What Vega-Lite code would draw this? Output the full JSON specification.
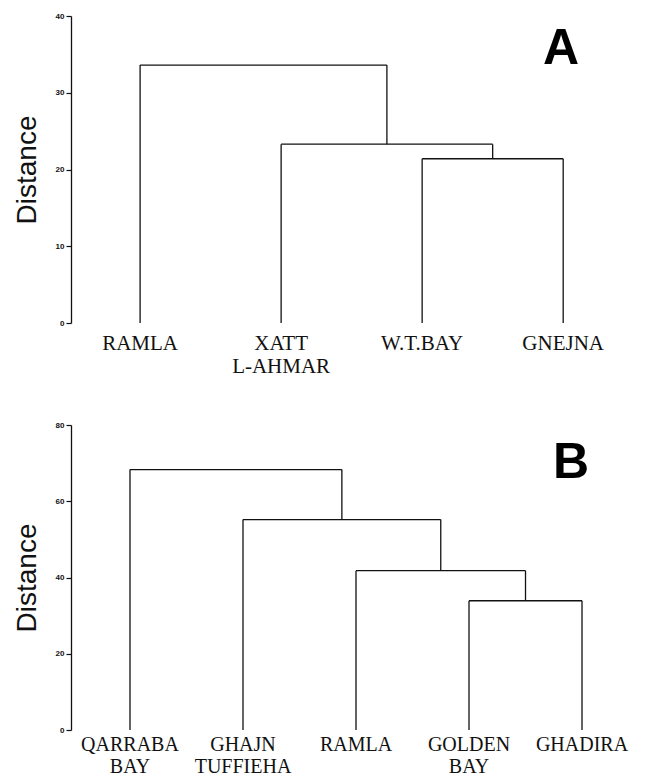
{
  "$schema": "https://vega.github.io/schema/vega-lite/v6.json",
  "background": "white",
  "padding": {"left": 13, "top": 12, "right": 5, "bottom": 0},
  "spacing": 44,
  "config": {
    "view": {"stroke": null},
    "axis": {
      "grid": false,
      "tickSize": 5,
      "labelFontSize": 8,
      "labelFont": "Liberation Sans",
      "labelFontWeight": "bold",
      "labelColor": "#111",
      "labelPadding": 2,
      "domainColor": "#111",
      "domainWidth": 1.3,
      "tickColor": "#111",
      "tickWidth": 1.2,
      "titleFont": "Liberation Sans",
      "titleFontSize": 28,
      "titleFontWeight": "normal",
      "titleColor": "#111",
      "titlePadding": 14
    },
    "title": {"font": "Liberation Sans", "fontSize": 50, "fontWeight": "bold", "color": "#000", "anchor": "end", "frame": "group", "offset": 0, "baseline": "alphabetic"}
  },
  "vconcat": [
    {
      "width": 550,
      "height": 307,
      "title": {"text": "A", "dx": -42, "dy": 66},
      "layer": [
        {
          "data": {"name": "mergesA", "values": [
            {"xl": 3, "xr": 4, "h": 21.4, "hl": 0, "hr": 0},
            {"xl": 2, "xr": 3.5, "h": 23.3, "hl": 0, "hr": 21.4},
            {"xl": 1, "xr": 2.75, "h": 33.6, "hl": 0, "hr": 23.3}
          ]},
          "mark": {"type": "rule", "color": "#111", "strokeWidth": 1.3},
          "encoding": {
            "x": {"field": "xl", "type": "quantitative", "scale": {"domain": [0.51, 4.41], "nice": false, "zero": false}, "axis": null},
            "x2": {"field": "xr"},
            "y": {"field": "h", "type": "quantitative", "scale": {"domain": [0, 40], "nice": false}, "axis": {"title": "Distance", "values": [0, 10, 20, 30, 40]}}
          }
        },
        {
          "data": {"name": "mergesA"},
          "mark": {"type": "rule", "color": "#111", "strokeWidth": 1.3},
          "encoding": {
            "x": {"field": "xl", "type": "quantitative"},
            "y": {"field": "hl", "type": "quantitative"},
            "y2": {"field": "h"}
          }
        },
        {
          "data": {"name": "mergesA"},
          "mark": {"type": "rule", "color": "#111", "strokeWidth": 1.3},
          "encoding": {
            "x": {"field": "xr", "type": "quantitative"},
            "y": {"field": "hr", "type": "quantitative"},
            "y2": {"field": "h"}
          }
        },
        {
          "data": {"values": [
            {"x": 1, "label": "RAMLA"},
            {"x": 2, "label": "XATT\nL-AHMAR"},
            {"x": 3, "label": "W.T.BAY"},
            {"x": 4, "label": "GNEJNA"}
          ]},
          "mark": {"type": "text", "font": "Liberation Serif", "fontSize": 21, "baseline": "top", "lineBreak": "\n", "lineHeight": 23, "dy": 10, "color": "#111"},
          "encoding": {
            "x": {"field": "x", "type": "quantitative"},
            "y": {"datum": 0},
            "text": {"field": "label"}
          }
        }
      ]
    },
    {
      "width": 550,
      "height": 305,
      "title": {"text": "B", "dx": -32, "dy": 71},
      "layer": [
        {
          "data": {"name": "mergesB", "values": [
            {"xl": 4, "xr": 5, "h": 33.9, "hl": 0, "hr": 0},
            {"xl": 3, "xr": 4.5, "h": 41.8, "hl": 0, "hr": 33.9},
            {"xl": 2, "xr": 3.75, "h": 55.2, "hl": 0, "hr": 41.8},
            {"xl": 1, "xr": 2.875, "h": 68.3, "hl": 0, "hr": 55.2}
          ]},
          "mark": {"type": "rule", "color": "#111", "strokeWidth": 1.3},
          "encoding": {
            "x": {"field": "xl", "type": "quantitative", "scale": {"domain": [0.478, 5.345], "nice": false, "zero": false}, "axis": null},
            "x2": {"field": "xr"},
            "y": {"field": "h", "type": "quantitative", "scale": {"domain": [0, 80], "nice": false}, "axis": {"title": "Distance", "values": [0, 20, 40, 60, 80]}}
          }
        },
        {
          "data": {"name": "mergesB"},
          "mark": {"type": "rule", "color": "#111", "strokeWidth": 1.3},
          "encoding": {
            "x": {"field": "xl", "type": "quantitative"},
            "y": {"field": "hl", "type": "quantitative"},
            "y2": {"field": "h"}
          }
        },
        {
          "data": {"name": "mergesB"},
          "mark": {"type": "rule", "color": "#111", "strokeWidth": 1.3},
          "encoding": {
            "x": {"field": "xr", "type": "quantitative"},
            "y": {"field": "hr", "type": "quantitative"},
            "y2": {"field": "h"}
          }
        },
        {
          "data": {"values": [
            {"x": 1, "label": "QARRABA\nBAY"},
            {"x": 2, "label": "GHAJN\nTUFFIEHA"},
            {"x": 3, "label": "RAMLA"},
            {"x": 4, "label": "GOLDEN\nBAY"},
            {"x": 5, "label": "GHADIRA"}
          ]},
          "mark": {"type": "text", "font": "Liberation Serif", "fontSize": 20, "baseline": "top", "lineBreak": "\n", "lineHeight": 22, "dy": 5, "color": "#111"},
          "encoding": {
            "x": {"field": "x", "type": "quantitative"},
            "y": {"datum": 0},
            "text": {"field": "label"}
          }
        }
      ]
    }
  ]
}
